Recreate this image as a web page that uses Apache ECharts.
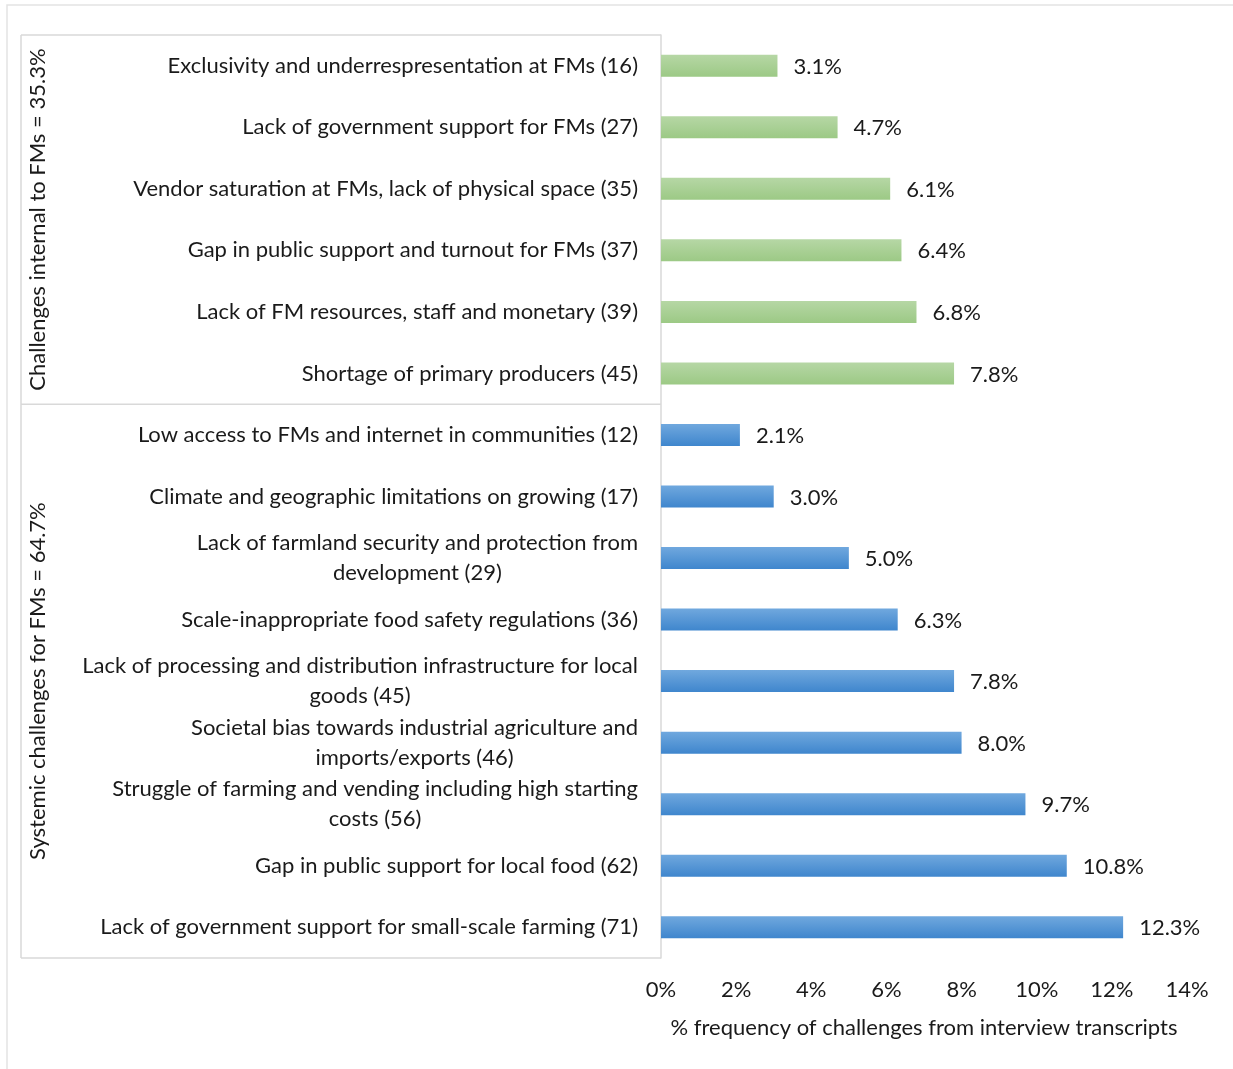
<!DOCTYPE html>
<html>
<head>
<meta charset="utf-8">
<style>
  html, body { margin: 0; padding: 0; background: #fff; }
  #chart { width: 1233px; height: 1069px; }
</style>
<script src="https://cdn.jsdelivr.net/npm/echarts@6/dist/echarts.min.js"></script>
</head>
<body>
<div id="chart"></div>
<script>
// Challenges facing farmers' markets, share of coded mentions
const internalCategories = [
  'Exclusivity and underrespresentation at FMs (16)',
  'Lack of government support for FMs (27)',
  'Vendor saturation at FMs, lack of physical space (35)',
  'Gap in public support and turnout for FMs (37)',
  'Lack of FM resources, staff and monetary (39)',
  'Shortage of primary producers (45)'
];
const internalValues = [3.1, 4.7, 6.1, 6.4, 6.8, 7.8];

const systemicCategories = [
  'Low access to FMs and internet in communities (12)',
  'Climate and geographic limitations on growing (17)',
  'Lack of farmland security and protection from\ndevelopment (29)',
  'Scale-inappropriate food safety regulations (36)',
  'Lack of processing and distribution infrastructure for local\ngoods (45)',
  'Societal bias towards industrial agriculture and\nimports/exports (46)',
  'Struggle of farming and vending including high starting\ncosts (56)',
  'Gap in public support for local food (62)',
  'Lack of government support for small-scale farming (71)'
];
const systemicValues = [2.1, 3.0, 5.0, 6.3, 7.8, 8.0, 9.7, 10.8, 12.3];

const groupLabels = [
  'Challenges internal to FMs = 35.3%',
  'Systemic challenges for FMs = 64.7%'
];
const xTicks = [0, 2, 4, 6, 8, 10, 12, 14];
const xAxisTitle = '% frequency of challenges from interview transcripts';

const FONT = 'Lato, "Open Sans", sans-serif';
const FS = 22;
const TEXT = '#1a1a1a';
const LINE = '#d9d9d9';

const greenFill = new echarts.graphic.LinearGradient(0, 0, 0, 1, [
  { offset: 0, color: '#b6d7a5' },
  { offset: 1, color: '#9cc985' }
]);
const blueFill = new echarts.graphic.LinearGradient(0, 0, 0, 1, [
  { offset: 0, color: '#70a8de' },
  { offset: 1, color: '#3f86cd' }
]);

const categories = internalCategories.concat(systemicCategories);
const barData = internalValues.map(v => ({ value: v, itemStyle: { color: greenFill } }))
  .concat(systemicValues.map(v => ({ value: v, itemStyle: { color: blueFill } })));

const chart = echarts.init(document.getElementById('chart'));

const grid = { left: 661, right: 46, top: 35, bottom: 111 };

chart.setOption({
  animation: false,
  backgroundColor: '#fff',
  grid: grid,
  xAxis: {
    type: 'value',
    min: xTicks[0],
    max: xTicks[xTicks.length - 1],
    interval: 2,
    axisLine: { show: false },
    axisTick: { show: false },
    splitLine: { show: false },
    axisLabel: {
      formatter: v => v + '%',
      color: TEXT, fontFamily: FONT, fontSize: FS, margin: 21
    },
    name: xAxisTitle,
    nameLocation: 'middle',
    nameGap: 59,
    nameTextStyle: { color: TEXT, fontFamily: FONT, fontSize: FS }
  },
  yAxis: {
    type: 'category',
    inverse: true,
    data: categories,
    axisLine: { show: true, lineStyle: { color: LINE, width: 1.5 } },
    axisTick: { show: false },
    axisLabel: {
      // block is right-aligned against the axis, each wrapped line is centred in it
      formatter: s => s.split('\n').map(line => '{c|' + line + '}').join('\n'),
      color: TEXT, fontFamily: FONT, fontSize: FS, margin: 23,
      align: 'right', lineHeight: 30,
      rich: {
        c: { align: 'center', color: TEXT, fontFamily: FONT, fontSize: FS, lineHeight: 30 }
      }
    }
  },
  series: [{
    type: 'bar',
    data: barData,
    barWidth: 22,
    label: {
      show: true,
      position: 'right',
      distance: 16,
      offset: [0, 1],
      formatter: p => p.value.toFixed(1) + '%',
      color: TEXT, fontFamily: FONT, fontSize: FS
    }
  }]
});

// Frame around the category labels, split into the two groups
function drawFrame() {
  const yTop = grid.top;
  const yBottom = chart.getHeight() - grid.bottom;
  const xAxisPos = grid.left;
  const boxLeft = 21;
  const y5 = chart.convertToPixel({ yAxisIndex: 0 }, internalCategories.length - 1);
  const y6 = chart.convertToPixel({ yAxisIndex: 0 }, internalCategories.length);
  const ySplit = (y5 + y6) / 2;
  const lineStyle = { stroke: LINE, lineWidth: 1.5 };
  const seg = (x1, y1, x2, y2) => ({
    type: 'line', silent: true, shape: { x1, y1, x2, y2 }, style: lineStyle
  });
  chart.setOption({
    graphic: [
      { type: 'rect', silent: true, shape: { x: 7, y: 5, width: 1240, height: 1080 },
        style: { fill: null, stroke: '#e3e3e3', lineWidth: 1.5 } },
      seg(boxLeft, yTop, xAxisPos, yTop),
      seg(boxLeft, yBottom, xAxisPos, yBottom),
      seg(boxLeft, ySplit, xAxisPos, ySplit),
      seg(boxLeft, yTop, boxLeft, yBottom),
      { type: 'text', silent: true, x: 38, y: (yTop + ySplit) / 2, rotation: Math.PI / 2,
        style: { text: groupLabels[0], fill: TEXT, font: FS + 'px ' + FONT,
                 align: 'center', verticalAlign: 'middle' } },
      { type: 'text', silent: true, x: 38, y: (ySplit + yBottom) / 2, rotation: Math.PI / 2,
        style: { text: groupLabels[1], fill: TEXT, font: FS + 'px ' + FONT,
                 align: 'center', verticalAlign: 'middle' } }
    ]
  });
}
drawFrame();
</script>
</body>
</html>
